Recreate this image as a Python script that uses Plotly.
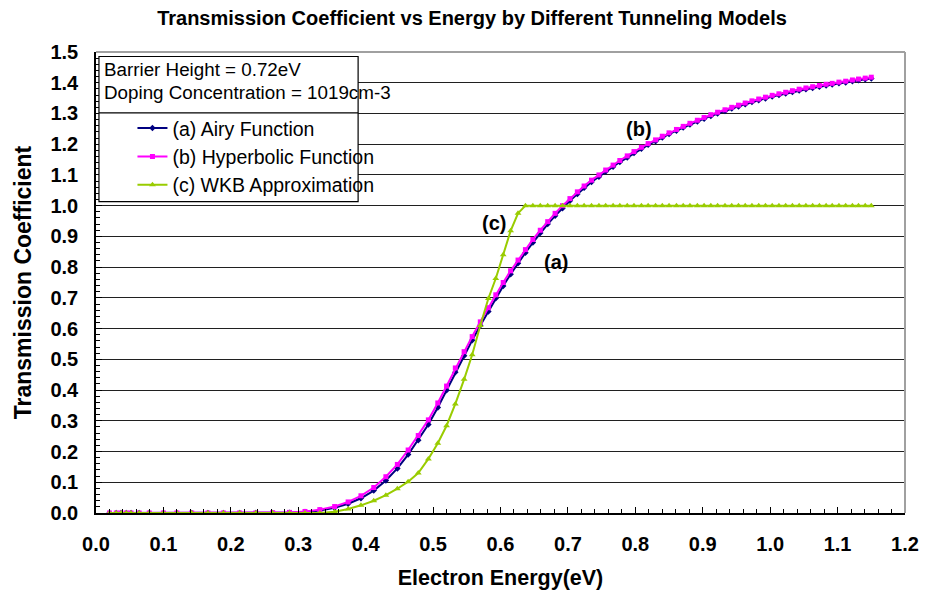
import plotly.graph_objects as go

# Electron energy grid (eV)
energy = [0.020, 0.030, 0.037, 0.045, 0.052, 0.064, 0.079, 0.100, 0.120, 0.142,
          0.166, 0.189, 0.213, 0.237, 0.262, 0.287, 0.310, 0.332, 0.354, 0.374,
          0.393, 0.412, 0.430, 0.447, 0.463, 0.478, 0.493, 0.507, 0.520, 0.533,
          0.546, 0.558, 0.570, 0.582, 0.593, 0.604, 0.615, 0.626, 0.637, 0.648,
          0.659, 0.670, 0.681, 0.692, 0.703, 0.714, 0.724, 0.735, 0.746, 0.756,
          0.767, 0.777, 0.788, 0.798, 0.809, 0.819, 0.830, 0.840, 0.850, 0.861,
          0.871, 0.881, 0.892, 0.902, 0.912, 0.922, 0.933, 0.943, 0.953, 0.963,
          0.973, 0.983, 0.993, 1.003, 1.013, 1.023, 1.033, 1.043, 1.053, 1.063,
          1.073, 1.083, 1.092, 1.102, 1.112, 1.122, 1.131, 1.141, 1.150]

# (a) Airy function model
airy = [0.000, 0.000, 0.000, 0.000, 0.000, 0.000, 0.000, 0.000, 0.000, 0.000,
        0.000, 0.000, 0.000, 0.000, 0.000, 0.001, 0.003, 0.008, 0.017, 0.030,
        0.048, 0.073, 0.106, 0.145, 0.190, 0.237, 0.288, 0.343, 0.399, 0.458,
        0.512, 0.562, 0.610, 0.656, 0.699, 0.739, 0.777, 0.813, 0.847, 0.880,
        0.911, 0.940, 0.967, 0.992, 1.016, 1.038, 1.058, 1.077, 1.094, 1.111,
        1.127, 1.142, 1.157, 1.171, 1.185, 1.198, 1.210, 1.222, 1.233, 1.244,
        1.254, 1.264, 1.274, 1.283, 1.292, 1.300, 1.308, 1.316, 1.323, 1.330,
        1.337, 1.343, 1.349, 1.355, 1.360, 1.365, 1.370, 1.375, 1.379, 1.383,
        1.387, 1.391, 1.394, 1.398, 1.401, 1.405, 1.408, 1.411, 1.414]

# (b) Hyperbolic function model
hyperbolic = [0.000, 0.000, 0.000, 0.000, 0.000, 0.000, 0.000, 0.000, 0.000, 0.000,
              0.000, 0.000, 0.000, 0.000, 0.001, 0.002, 0.005, 0.011, 0.021, 0.036,
              0.056, 0.083, 0.118, 0.158, 0.205, 0.252, 0.303, 0.358, 0.413, 0.472,
              0.525, 0.574, 0.622, 0.668, 0.710, 0.750, 0.788, 0.823, 0.857, 0.890,
              0.920, 0.948, 0.975, 1.000, 1.023, 1.045, 1.064, 1.083, 1.100, 1.116,
              1.132, 1.147, 1.162, 1.176, 1.190, 1.202, 1.214, 1.226, 1.237, 1.248,
              1.258, 1.268, 1.278, 1.287, 1.296, 1.304, 1.312, 1.320, 1.327, 1.334,
              1.341, 1.347, 1.353, 1.359, 1.364, 1.369, 1.374, 1.379, 1.383, 1.387,
              1.391, 1.395, 1.398, 1.402, 1.405, 1.409, 1.412, 1.415, 1.418]

# (c) WKB approximation
wkb = [0.000, 0.000, 0.000, 0.000, 0.000, 0.000, 0.000, 0.000, 0.000, 0.000,
       0.000, 0.000, 0.000, 0.000, 0.000, 0.000, 0.000, 0.000, 0.004, 0.013,
       0.025, 0.040, 0.058, 0.079, 0.102, 0.130, 0.176, 0.227, 0.284, 0.355,
       0.435, 0.515, 0.610, 0.698, 0.763, 0.840, 0.918, 0.975, 1.000, 1.000,
       1.000, 1.000, 1.000, 1.000, 1.000, 1.000, 1.000, 1.000, 1.000, 1.000,
       1.000, 1.000, 1.000, 1.000, 1.000, 1.000, 1.000, 1.000, 1.000, 1.000,
       1.000, 1.000, 1.000, 1.000, 1.000, 1.000, 1.000, 1.000, 1.000, 1.000,
       1.000, 1.000, 1.000, 1.000, 1.000, 1.000, 1.000, 1.000, 1.000, 1.000,
       1.000, 1.000, 1.000, 1.000, 1.000, 1.000, 1.000, 1.000, 1.000]

series_names = ["(a) Airy Function", "(b) Hyperbolic Function", "(c) WKB Approximation"]
x_ticks = [0.0, 0.1, 0.2, 0.3, 0.4, 0.5, 0.6, 0.7, 0.8, 0.9, 1.0, 1.1, 1.2]
y_ticks = [0.0, 0.1, 0.2, 0.3, 0.4, 0.5, 0.6, 0.7, 0.8, 0.9, 1.0, 1.1, 1.2, 1.3, 1.4, 1.5]

FONT = "Liberation Sans, Arial, sans-serif"
W, H = 931, 598
L, R, T, B = 96, 917, 52, 514


def px_x(px):
    return (px - L) / (R - L)


def px_y(py):
    return (B - py) / (B - T)


fig = go.Figure()
fig.add_trace(go.Scatter(x=energy, y=airy, name=series_names[0], mode="lines+markers",
                         line=dict(color="#000080", width=2),
                         marker=dict(symbol="diamond", size=5, color="#000080")))
fig.add_trace(go.Scatter(x=energy, y=hyperbolic, name=series_names[1], mode="lines+markers",
                         line=dict(color="#FF00FF", width=2),
                         marker=dict(symbol="square", size=5, color="#FF00FF")))
fig.add_trace(go.Scatter(x=energy, y=wkb, name=series_names[2], mode="lines+markers",
                         line=dict(color="#99CC00", width=2),
                         marker=dict(symbol="triangle-up", size=6, color="#99CC00")))

tick_font = dict(family=FONT, size=20, color="black", weight="bold")

fig.update_layout(
    width=W, height=H,
    margin=dict(l=L, r=W - R, t=T, b=H - B),
    paper_bgcolor="white", plot_bgcolor="white",
    title=dict(text="Transmission Coefficient vs Energy by Different Tunneling Models",
               font=dict(family="Liberation Sans Narrow, Arial Narrow, " + FONT, size=20,
                         color="black", weight="bold"),
               x=472 / W, xref="container", xanchor="center",
               y=1 - 18 / H, yref="container", yanchor="middle"),
    xaxis=dict(range=[0, 1.2], tickvals=x_ticks, ticktext=[f"{v:.1f}" for v in x_ticks],
               showgrid=False, zeroline=False,
               showline=True, linecolor="black", linewidth=1.5,
               ticks="inside", ticklen=6, tickcolor="black",
               minor=dict(dtick=0.02, ticks="inside", ticklen=4, tickcolor="black"),
               tickfont=tick_font, ticklabelstandoff=12,
               title=dict(text="Electron Energy(eV)", standoff=16,
                          font=dict(family=FONT, size=21.5, color="black", weight="bold"))),
    yaxis=dict(range=[0, 1.5], tickvals=y_ticks, ticktext=[f"{v:.1f}" for v in y_ticks],
               showgrid=True, gridcolor="#202020", gridwidth=1, zeroline=False,
               showline=True, linecolor="black", linewidth=1.5,
               ticks="inside", ticklen=6, tickcolor="black",
               minor=dict(dtick=0.02, ticks="inside", ticklen=4, tickcolor="black", showgrid=False),
               tickfont=tick_font, ticklabelstandoff=12,
               title=dict(text="Transmission Coefficient", standoff=12,
                          font=dict(family=FONT, size=23, color="black", weight="bold"))),
    legend=dict(x=px_x(133), y=px_y(109), xanchor="left", yanchor="top",
                bgcolor="rgba(0,0,0,0)", borderwidth=0, tracegroupgap=0,
                font=dict(family=FONT, size=19.5, color="black")),
    showlegend=True,
)

# plot frame: light grey top and right edges
fig.add_shape(type="line", xref="paper", yref="paper", x0=0, x1=1, y0=1, y1=1,
              line=dict(color="#a0a0a0", width=2), layer="above")
fig.add_shape(type="line", xref="paper", yref="paper", x0=1, x1=1, y0=0, y1=1,
              line=dict(color="#a0a0a0", width=2), layer="above")

# info + legend box in the upper-left corner
fig.add_shape(type="rect", xref="paper", yref="paper",
              x0=px_x(99), x1=px_x(362), y0=px_y(202), y1=px_y(56.5),
              fillcolor="white", line=dict(color="black", width=1.2), layer="above")
fig.add_shape(type="line", xref="paper", yref="paper",
              x0=px_x(99), x1=px_x(362), y0=px_y(113), y1=px_y(113),
              line=dict(color="black", width=1.2), layer="above")

info_lines = ["Barrier Height = 0.72eV", "Doping Concentration = 1019cm-3"]
for text, ypx in zip(info_lines, [70, 93]):
    fig.add_annotation(text=text, xref="paper", yref="paper", x=px_x(102), y=px_y(ypx),
                       xanchor="left", yanchor="middle", showarrow=False,
                       font=dict(family=FONT, size=18.8, color="black"))

# curve labels
curve_labels = [("(a)", 0.682, 0.818), ("(b)", 0.806, 1.248), ("(c)", 0.591, 0.944)]
for text, xv, yv in curve_labels:
    fig.add_annotation(text=text, x=xv, y=yv, xref="x", yref="y", showarrow=False,
                       font=dict(family=FONT, size=20, color="black", weight="bold"))

fig.write_html("out.html")
